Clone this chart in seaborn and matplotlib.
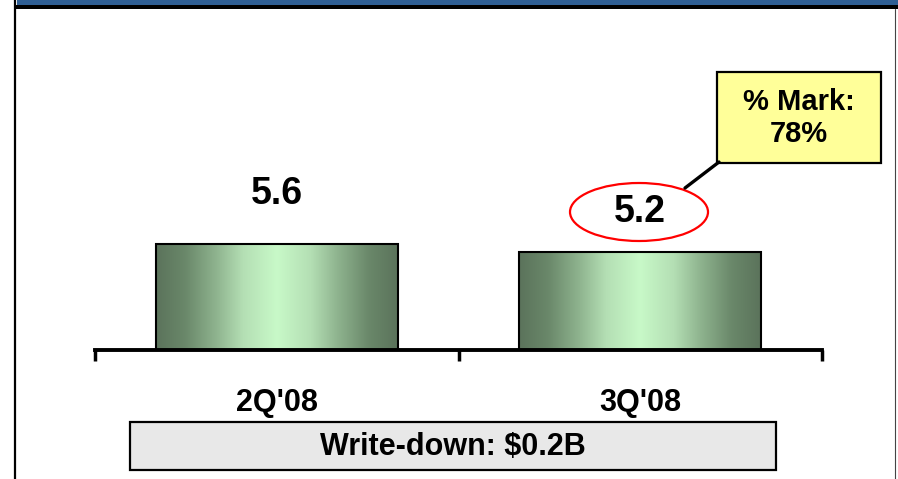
import matplotlib
matplotlib.use("Agg")
import matplotlib.pyplot as plt
import seaborn as sns
import numpy as np
from matplotlib.colors import LinearSegmentedColormap
from matplotlib.patches import Rectangle, Ellipse
from matplotlib.lines import Line2D

# data
quarters = ["2Q'08", "3Q'08"]
values = [5.6, 5.2]
value_labels = ["5.6", "5.2"]
mark_text = "% Mark:\n78%"
writedown_text = "Write-down: $0.2B"

W, H = 898, 479
sns.set_style("white")
plt.rcParams['font.family'] = ['Liberation Sans', 'DejaVu Sans']
plt.rcParams['text.color'] = 'black'
plt.rcParams['xtick.color'] = 'black'
plt.rcParams['axes.edgecolor'] = 'black'

fig = plt.figure(figsize=(W / 100, H / 100), dpi=100)


def fx(x):
    return x / W


def fy(y):
    return 1 - y / H


# axes: x -0.5..1.5 -> px 95..822, y=0 at px 350
px_per_unit = 106 / 5.6
ax_top = 20
ax = fig.add_axes([fx(95), fy(350), (822 - 95) / W, (350 - ax_top) / H])
sns.barplot(x=quarters, y=values, width=0.665, color="#9cc89c",
            edgecolor="black", linewidth=1.5, ax=ax, zorder=2)
ax.set_xlim(-0.5, 1.5)
ax.set_ylim(0, (350 - ax_top) / px_per_unit)

# green gradient fill on each bar
cmap = LinearSegmentedColormap.from_list("bar", [
    (0.0, "#5b735b"), (0.12, "#6a886a"), (0.25, "#8fb48f"), (0.36, "#b4dfb4"),
    (0.5, "#c8f9c8"), (0.64, "#b4dfb4"), (0.75, "#8fb48f"), (0.88, "#6a886a"),
    (1.0, "#5b735b")])
grad = np.linspace(0, 1, 256).reshape(1, -1)
for bar in ax.patches:
    x0, y0 = bar.get_x(), bar.get_y()
    w, h = bar.get_width(), bar.get_height()
    im = ax.imshow(grad, cmap=cmap, aspect="auto", extent=[x0, x0 + w, y0, y0 + h],
                   zorder=2.5, interpolation="bicubic")
    im.set_clip_path(bar)
    bar.set_facecolor("none")
    bar.set_zorder(3)

# value labels above bars
label_offsets = [50, 40]
for i, (v, lab) in enumerate(zip(values, value_labels)):
    ax.annotate(lab, (i, v), xytext=(0, label_offsets[i]), textcoords="offset pixels",
                ha="center", va="center", fontsize=27, fontweight="bold", color="black")

# axis styling
for s in ["top", "right", "left"]:
    ax.spines[s].set_visible(False)
ax.spines["bottom"].set_linewidth(2.8)
ax.spines["bottom"].set_color("black")
ax.spines["bottom"].set_zorder(4)
ax.set_yticks([])
ax.set_xticks([-0.5, 0.5, 1.5], labels=["", "", ""])
ax.tick_params(axis="x", which="major", direction="out", length=8, width=2.5, color="black", bottom=True)
ax.set_xticks([0, 1], labels=quarters, minor=True)
ax.tick_params(axis="x", which="minor", length=0, pad=27, labelsize=22, labelcolor="black")
for t in ax.get_xticklabels(minor=True):
    t.set_fontweight("bold")
ax.set_xlabel("")
ax.patch.set_alpha(0)

# frame: blue header strip, borders
fig.add_artist(Rectangle((fx(17), fy(5)), 1 - fx(17), 5 / H, transform=fig.transFigure,
                         facecolor="#2f5f94", edgecolor="none"))
fig.add_artist(Rectangle((fx(15), fy(9)), 1 - fx(15), 4 / H, transform=fig.transFigure,
                         facecolor="black", edgecolor="none"))
fig.add_artist(Line2D([fx(15.5), fx(15.5)], [0, 1], transform=fig.transFigure,
                      color="black", lw=1.6))
fig.add_artist(Line2D([fx(895), fx(895)], [0, fy(9)], transform=fig.transFigure,
                      color="#444444", lw=0.8))

# red ellipse around 3Q value
fig.add_artist(Ellipse((fx(639), fy(212)), 138 / W, 58 / H, transform=fig.transFigure,
                       facecolor="none", edgecolor="#ff0000", lw=1.6))

# callout line and box
fig.add_artist(Line2D([fx(685), fx(719)], [fy(188), fy(162)], transform=fig.transFigure,
                      color="black", lw=2.4))
fig.add_artist(Rectangle((fx(717), fy(163)), (881 - 717) / W, (163 - 72) / H,
                         transform=fig.transFigure, facecolor="#ffff99",
                         edgecolor="black", lw=1.6))
fig.text(fx(799), fy(118), mark_text, ha="center", va="center", fontsize=21,
         fontweight="bold", linespacing=1.15, color="black")

# write-down box
fig.add_artist(Rectangle((fx(130), fy(470)), (776 - 130) / W, (470 - 422) / H,
                         transform=fig.transFigure, facecolor="#e8e8e8",
                         edgecolor="black", lw=1.6))
fig.text(fx(453), fy(447), writedown_text, ha="center", va="center", fontsize=22,
         fontweight="bold", color="black")

fig.savefig("out.png", dpi=100)
